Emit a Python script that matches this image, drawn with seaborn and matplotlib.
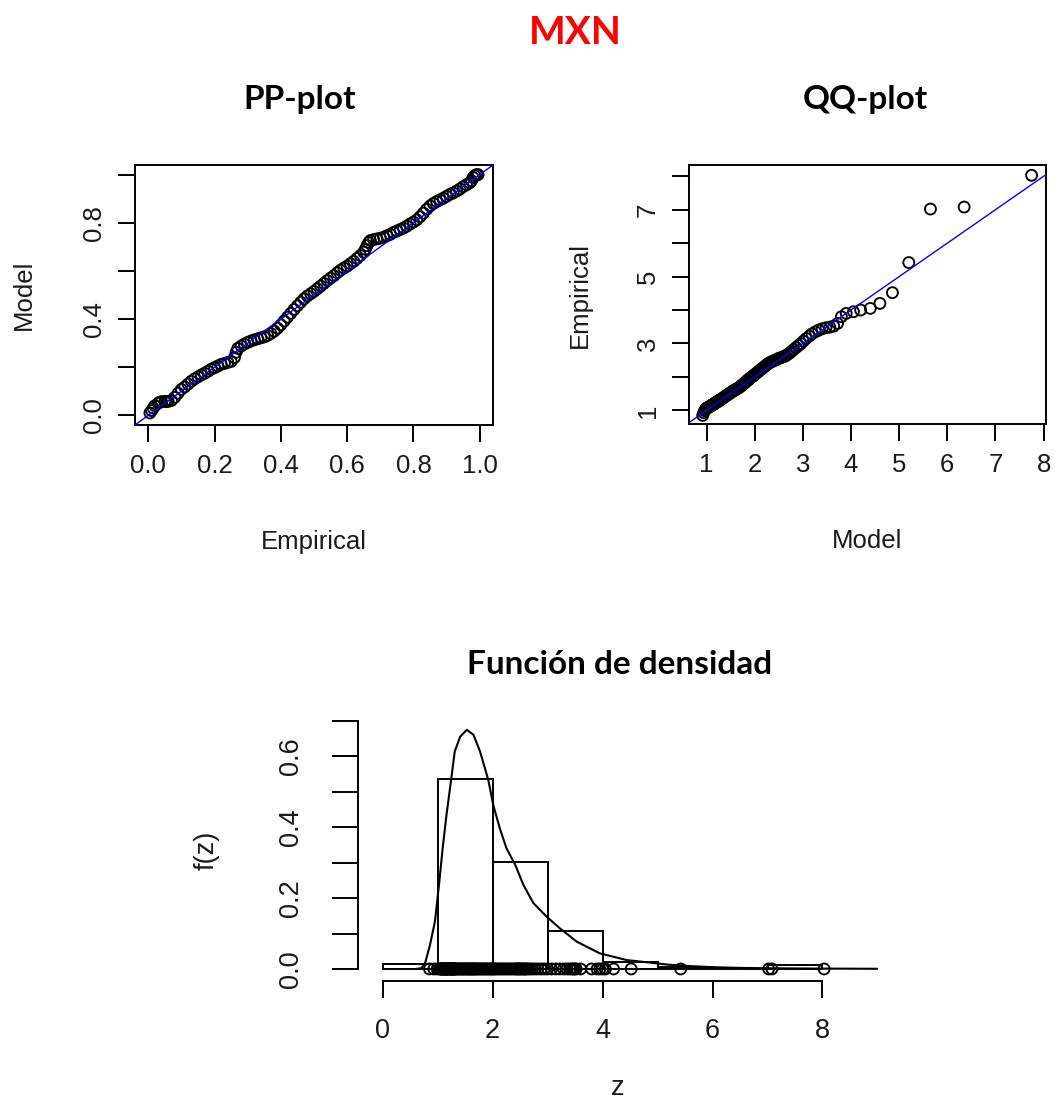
import numpy as np
import pandas as pd
import matplotlib
matplotlib.use("Agg")
import matplotlib.pyplot as plt
import seaborn as sns

# ---------------- data ----------------
pp_emp = [0.005, 0.01, 0.015, 0.02, 0.03, 0.035, 0.04, 0.05, 0.055, 0.06, 0.07, 0.08, 0.09,
          0.10, 0.11, 0.12, 0.13, 0.14, 0.15, 0.16, 0.17, 0.18, 0.19, 0.20, 0.21, 0.22, 0.23,
          0.24, 0.25, 0.26, 0.265, 0.27, 0.28, 0.29, 0.30, 0.31, 0.32, 0.33, 0.34, 0.35, 0.36,
          0.37, 0.38, 0.39, 0.40, 0.41, 0.42, 0.43, 0.44, 0.45, 0.46, 0.47, 0.48, 0.49, 0.50,
          0.51, 0.52, 0.53, 0.54, 0.55, 0.56, 0.57, 0.58, 0.59, 0.60, 0.61, 0.62, 0.63, 0.64,
          0.65, 0.655, 0.66, 0.665, 0.67, 0.68, 0.69, 0.70, 0.71, 0.72, 0.73, 0.74, 0.75, 0.76,
          0.77, 0.78, 0.79, 0.80, 0.81, 0.82, 0.83, 0.84, 0.85, 0.86, 0.87, 0.88, 0.89, 0.90,
          0.91, 0.92, 0.93, 0.94, 0.95, 0.96, 0.97, 0.975, 0.98, 0.985, 0.99, 0.995]
pp_mod = [0.010, 0.020, 0.030, 0.040, 0.050, 0.055, 0.057, 0.058, 0.058, 0.058, 0.062, 0.075, 0.092,
          0.108, 0.118, 0.130, 0.142, 0.152, 0.160, 0.168, 0.175, 0.183, 0.192, 0.198, 0.205, 0.212, 0.216,
          0.220, 0.224, 0.240, 0.262, 0.278, 0.288, 0.296, 0.303, 0.309, 0.314, 0.318, 0.322, 0.326, 0.332,
          0.340, 0.350, 0.362, 0.376, 0.392, 0.408, 0.424, 0.440, 0.455, 0.470, 0.484, 0.496, 0.505, 0.515,
          0.526, 0.537, 0.548, 0.560, 0.570, 0.580, 0.592, 0.603, 0.612, 0.620, 0.630, 0.640, 0.652, 0.664,
          0.678, 0.690, 0.705, 0.718, 0.726, 0.730, 0.733, 0.736, 0.740, 0.746, 0.752, 0.760, 0.766, 0.772,
          0.778, 0.786, 0.795, 0.803, 0.812, 0.825, 0.840, 0.856, 0.870, 0.880, 0.888, 0.895, 0.902, 0.910,
          0.918, 0.924, 0.932, 0.940, 0.950, 0.958, 0.966, 0.975, 0.988, 0.995, 1.000, 1.000]

qq_model = [0.92, 0.94, 0.96, 0.98, 0.99, 1.00,
            1.01, 1.02, 1.03, 1.04, 1.05, 1.06, 1.07, 1.08, 1.09, 1.10, 1.11, 1.12, 1.13, 1.14, 1.15,
            1.16, 1.17, 1.18, 1.19, 1.20, 1.21, 1.22, 1.23, 1.24, 1.25, 1.26, 1.27, 1.28, 1.29, 1.30,
            1.32, 1.34, 1.36, 1.38, 1.40, 1.42, 1.44, 1.46, 1.48, 1.50, 1.52, 1.54, 1.56, 1.58, 1.60,
            1.62, 1.64, 1.66, 1.68, 1.70, 1.72, 1.74, 1.76, 1.78, 1.80, 1.82, 1.84, 1.86, 1.88, 1.90,
            1.92, 1.94, 1.96, 1.98, 2.00,
            2.03, 2.06, 2.09, 2.12, 2.15, 2.18, 2.21, 2.24, 2.27, 2.30, 2.33, 2.36, 2.39, 2.42, 2.45,
            2.49, 2.53, 2.57, 2.61, 2.65, 2.69, 2.73, 2.77, 2.81,
            2.86, 2.91, 2.96, 3.01, 3.07, 3.13, 3.19, 3.26, 3.33, 3.40, 3.48, 3.56, 3.64, 3.72, 3.80, 3.90,
            4.05, 4.20, 4.40, 4.60, 4.86, 5.20, 5.65, 6.35, 7.75]
qq_emp = [0.85, 0.93, 0.99, 1.03, 1.05, 1.06,
          1.07, 1.08, 1.08, 1.09, 1.10, 1.11, 1.12, 1.13, 1.14, 1.15, 1.16, 1.16, 1.17, 1.18, 1.19,
          1.20, 1.21, 1.22, 1.23, 1.24, 1.25, 1.26, 1.27, 1.27, 1.28, 1.29, 1.30, 1.31, 1.32, 1.33,
          1.35, 1.37, 1.39, 1.41, 1.43, 1.45, 1.47, 1.49, 1.51, 1.53, 1.55, 1.57, 1.59, 1.60, 1.62,
          1.64, 1.65, 1.67, 1.69, 1.71, 1.73, 1.76, 1.78, 1.81, 1.83, 1.86, 1.88, 1.91, 1.93, 1.96,
          1.98, 2.00, 2.02, 2.05, 2.07,
          2.11, 2.14, 2.18, 2.21, 2.25, 2.28, 2.32, 2.35, 2.39, 2.42, 2.44, 2.46, 2.48, 2.50, 2.52,
          2.55, 2.57, 2.59, 2.61, 2.64, 2.68, 2.72, 2.77, 2.82,
          2.88, 2.94, 3.00, 3.07, 3.15, 3.22, 3.29, 3.35, 3.40, 3.44, 3.47, 3.49, 3.52, 3.60, 3.80, 3.90,
          3.95, 4.00, 4.05, 4.20, 4.52, 5.42, 7.02, 7.08, 8.03]

hist_edges = [0, 1, 2, 3, 4, 5, 6, 7, 8]
hist_density = [0.015, 0.535, 0.302, 0.108, 0.020, 0.005, 0.0, 0.010]

dens_z = [0.60, 0.70, 0.77, 0.86, 0.95, 1.03, 1.09, 1.16, 1.24, 1.31, 1.41, 1.53, 1.65, 1.77,
          1.92, 2.01, 2.13, 2.25, 2.41, 2.56, 2.74, 2.98, 3.22, 3.53, 3.95, 4.44, 4.80, 5.20,
          5.60, 6.00, 6.50, 7.00, 8.00, 9.00]
dens_f = [0.000, 0.002, 0.016, 0.068, 0.134, 0.247, 0.341, 0.435, 0.529, 0.614, 0.656, 0.675,
          0.661, 0.614, 0.534, 0.463, 0.397, 0.341, 0.294, 0.237, 0.186, 0.148, 0.115, 0.077,
          0.044, 0.025, 0.019, 0.012, 0.008, 0.005, 0.003, 0.002, 0.001, 0.0005]

# ---------------- styling ----------------
sns.set_theme(style="ticks")
plt.rcParams["font.family"] = ["Liberation Sans", "DejaVu Sans"]

W, H = 1055, 1108
fig = plt.figure(figsize=(W / 100, H / 100), dpi=100)
fig.patch.set_facecolor("white")


def ax_px(left, top, right, bottom):
    return fig.add_axes([left / W, 1 - bottom / H, (right - left) / W, (bottom - top) / H])


TXT = "#1a1a1a"
FS = 18.5
LW = 1.4
TITLE_FONT = ["Lato", "Open Sans", "DejaVu Sans"]

marker_kw = dict(marker="o", s=62, facecolors="none", edgecolors="black", linewidth=1.35,
                 legend=False, zorder=3)


def style_box(ax):
    for sp in ax.spines.values():
        sp.set_visible(True)
        sp.set_linewidth(LW)
        sp.set_color("black")
    ax.tick_params(direction="out", length=12, width=LW, colors="black",
                   labelsize=FS, labelcolor=TXT, pad=9)
    ax.set_facecolor("white")
    ax.grid(False)


# ---------------- PP-plot ----------------
ax1 = ax_px(135, 165, 493, 425)
sns.scatterplot(x=pp_emp, y=pp_mod, ax=ax1, **marker_kw)
ax1.axline((0, 0), slope=1, color="blue", lw=1.0, zorder=4)
ax1.set_xlim(-0.04, 1.04)
ax1.set_ylim(-0.04, 1.04)
style_box(ax1)
ax1.set_xticks([0, 0.2, 0.4, 0.6, 0.8, 1.0])
ax1.set_xticklabels(["0.0", "0.2", "0.4", "0.6", "0.8", "1.0"])
ax1.set_yticks([0, 0.2, 0.4, 0.6, 0.8, 1.0])
ax1.set_yticklabels(["0.0", "", "0.4", "", "0.8", ""], rotation=90, va="center")
ax1.set_xlabel("Empirical", fontsize=FS, color=TXT, labelpad=37)
ax1.set_ylabel("Model", fontsize=FS, color=TXT, labelpad=33)

# ---------------- QQ-plot ----------------
ax2 = ax_px(689, 165, 1046, 424)
sns.scatterplot(x=qq_model, y=qq_emp, ax=ax2, **marker_kw)
ax2.axline((1, 1), slope=1, color="blue", lw=1.0, zorder=4)
ax2.set_xlim(0.635, 8.05)
ax2.set_ylim(0.593, 8.337)
style_box(ax2)
ax2.set_xticks(range(1, 9))
ax2.set_yticks(range(1, 9))
ax2.set_yticklabels(["1", "", "3", "", "5", "", "7", ""], rotation=90, va="center")
ax2.set_xlabel("Model", fontsize=FS, color=TXT, labelpad=37)
ax2.set_ylabel("Empirical", fontsize=FS, color=TXT, labelpad=32)

# ---------------- density ----------------
ax3 = ax_px(358, 719, 878, 981)
centers = [(a + b) / 2 for a, b in zip(hist_edges[:-1], hist_edges[1:])]
sns.histplot(x=centers, weights=hist_density, bins=hist_edges, stat="count",
             fill=False, color="black", linewidth=LW, ax=ax3, element="bars")
for p in ax3.patches:
    p.set_edgecolor("black")
sns.lineplot(x=dens_z, y=dens_f, ax=ax3, color="black", lw=1.5, sort=False,
             estimator=None, zorder=5)
sns.scatterplot(x=qq_emp, y=[0.0] * len(qq_emp), ax=ax3, **marker_kw)
ax3.set_xlim(-0.45, 9.01)
ax3.set_ylim(-0.034, 0.7056)
for side in ["top", "right"]:
    ax3.spines[side].set_visible(False)
ax3.spines["left"].set_bounds(0, 0.7)
ax3.spines["bottom"].set_bounds(0, 8)
for side in ["left", "bottom"]:
    ax3.spines[side].set_linewidth(LW)
    ax3.spines[side].set_color("black")
ax3.set_facecolor("white")
ax3.tick_params(axis="x", direction="out", length=12, width=LW, colors="black",
                labelsize=19.5, labelcolor=TXT, pad=15)
ax3.tick_params(axis="y", direction="out", length=19, width=LW, colors="black",
                labelsize=19.5, labelcolor=TXT, pad=20)
ax3.set_xticks([0, 2, 4, 6, 8])
ax3.set_yticks([0, 0.1, 0.2, 0.3, 0.4, 0.5, 0.6, 0.7])
ax3.set_yticklabels(["0.0", "", "0.2", "", "0.4", "", "0.6", ""], rotation=90, va="center")
ax3.set_xlabel("z", fontsize=19.5, color=TXT, labelpad=22)
ax3.set_ylabel("f(z)", fontsize=19.5, color=TXT, labelpad=42)

# ---------------- titles ----------------
fig.text(575 / W, 1 - 32 / H, "MXN", color="red", fontsize=28, fontweight="bold",
         ha="center", va="center", family=TITLE_FONT)
fig.text(300 / W, 1 - 100 / H, "PP-plot", color="black", fontsize=24, fontweight="bold",
         ha="center", va="center", family=TITLE_FONT)
fig.text(865 / W, 1 - 100 / H, "QQ-plot", color="black", fontsize=24, fontweight="bold",
         ha="center", va="center", family=TITLE_FONT)
fig.text(620 / W, 1 - 665 / H, "Función de densidad", color="black", fontsize=24,
         fontweight="bold", ha="center", va="center", family=TITLE_FONT)

fig.savefig("out.png", dpi=100, facecolor="white")
